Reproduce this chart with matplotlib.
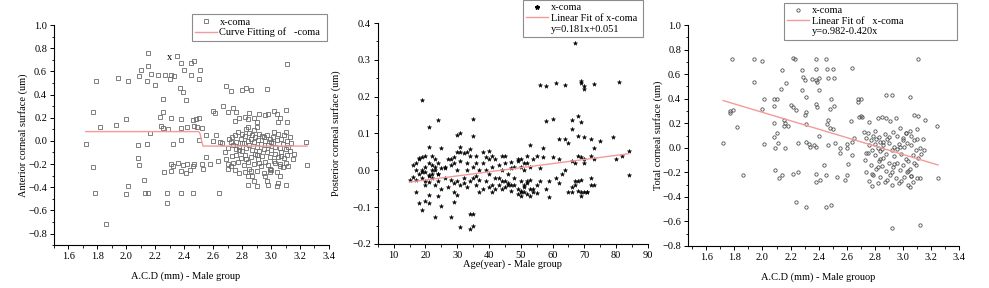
import numpy as np
import matplotlib.pyplot as plt
from matplotlib.lines import Line2D
from matplotlib.ticker import MultipleLocator

plt.rcParams["font.family"] = ["Liberation Serif", "DejaVu Serif"]
plt.rcParams["font.size"] = 7.5

# panel 1: anterior corneal surface vs A.C.D
acd_1 = [1.72, 1.77, 1.77, 1.78, 1.79, 1.82, 1.86, 1.93, 1.94, 2.00, 2.00, 2.01, 2.01, 2.08, 2.08,
         2.09, 2.09, 2.10, 2.12, 2.13, 2.14, 2.14, 2.15, 2.15, 2.15, 2.16, 2.17, 2.20, 2.22, 2.23,
         2.24, 2.25, 2.25, 2.25, 2.26, 2.27, 2.28, 2.28, 2.29, 2.30, 2.31, 2.31, 2.31, 2.31, 2.32,
         2.32, 2.33, 2.35, 2.36, 2.37, 2.38, 2.38, 2.38, 2.38, 2.38, 2.38, 2.39, 2.39, 2.40, 2.41,
         2.41, 2.42, 2.42, 2.44, 2.45, 2.45, 2.46, 2.46, 2.46, 2.47, 2.47, 2.47, 2.48, 2.49, 2.50,
         2.50, 2.50, 2.51, 2.52, 2.52, 2.53, 2.55, 2.55, 2.58, 2.60, 2.60, 2.61, 2.62, 2.63, 2.64,
         2.65, 2.67, 2.69, 2.70, 2.70, 2.72, 2.74, 2.75, 2.76, 2.78, 2.80, 2.82, 2.83, 2.84, 2.85,
         2.86, 2.88, 2.90, 2.90, 2.92, 2.96, 2.97, 2.98, 3.02, 3.04, 3.05, 3.06, 3.10, 3.11, 3.11,
         3.24, 3.25, 3.04, 3.05, 3.06, 2.97, 2.98, 2.90, 2.84, 3.10, 2.99, 3.06,
         2.66, 2.68, 2.69, 2.70, 2.71, 2.72, 2.73, 2.73, 2.74, 2.75, 2.75, 2.76, 2.76, 2.77, 2.77,
         2.78, 2.78, 2.79, 2.79, 2.80, 2.80, 2.81, 2.81, 2.82, 2.82, 2.82, 2.83, 2.83, 2.84, 2.84,
         2.84, 2.85, 2.85, 2.85, 2.86, 2.86, 2.87, 2.87, 2.87, 2.88, 2.88, 2.89, 2.89, 2.90, 2.90,
         2.91, 2.91, 2.92, 2.92, 2.93, 2.93, 2.94, 2.94, 2.95, 2.95, 2.96, 2.96, 2.97, 2.97, 2.98,
         2.98, 2.99, 2.99, 3.00, 3.00, 3.01, 3.01, 3.02, 3.02, 3.03, 3.03, 3.04, 3.04, 3.05, 3.05,
         3.06, 3.06, 3.07, 3.07, 3.08, 3.08, 3.09, 3.09, 3.10, 3.10, 3.11, 3.11, 3.12, 3.12, 3.13,
         3.14, 3.15, 3.16, 2.70, 2.74, 2.78, 2.83, 2.86, 2.88, 2.92, 2.95, 2.99, 3.03, 3.07, 2.80,
         2.90, 3.00, 2.72, 2.76, 2.96, 3.10, 3.13, 2.84, 2.88]
ant_1 = [-0.03, 0.25, -0.23, -0.45, 0.52, 0.12, -0.72, 0.14, 0.54, 0.19, -0.46, -0.39, 0.52, -0.04, -0.15,
         -0.21, 0.56, 0.61, -0.34, -0.45, -0.03, 0.52, -0.45, 0.65, 0.76, 0.07, 0.58, 0.48, 0.57, 0.21,
         0.13, 0.25, 0.36, 0.11, -0.27, 0.57, -0.45, -0.54, 0.10, 0.53, 0.57, 0.20, -0.20, -0.26, -0.03,
         -0.22, 0.56, 0.73, -0.19, 0.46, 0.67, 0.19, 0.11, 0.01, -0.45, -0.26, -0.21, 0.42, 0.61, 0.35,
         -0.28, -0.20, 0.12, -0.25, 0.57, 0.67, 0.18, -0.45, -0.22, 0.69, 0.13, -0.20, 0.19, 0.12, 0.53,
         0.20, 0.01, 0.61, 0.11, -0.20, -0.24, 0.05, -0.14, -0.20, 0.26, 0.00, 0.24, 0.05, -0.17, -0.45,
         -0.01, 0.30, 0.47, 0.25, -0.20, 0.43, 0.28, 0.17, 0.25, 0.20, 0.44, 0.21, 0.46, 0.19, 0.24,
         0.44, 0.20, 0.16, 0.12, 0.23, 0.22, 0.45, 0.23, 0.26, 0.23, 0.16, 0.20, 0.27, 0.66, 0.16,
         -0.01, -0.21, -0.39, -0.36, -0.30, -0.35, -0.38, -0.39, -0.38, -0.38, -0.24, -0.22,
         -0.02, -0.10, -0.16, -0.06, 0.02, -0.22, -0.13, 0.03, -0.04, -0.25, 0.05, -0.12, -0.01, -0.18, 0.08,
         -0.28, -0.05, 0.02, -0.15, -0.09, 0.06, -0.21, -0.02, -0.27, 0.04, -0.12, 0.10, -0.06, -0.18, 0.00,
         0.12, -0.24, -0.04, 0.07, -0.14, 0.02, -0.08, -0.30, 0.05, -0.20, -0.01, -0.11, 0.03, -0.26, -0.05,
         0.01, -0.16, -0.09, 0.06, -0.22, -0.03, -0.13, 0.04, -0.07, -0.28, 0.00, -0.18, -0.10, 0.05, -0.04,
         -0.21, 0.02, -0.14, -0.08, -0.25, 0.03, -0.02, -0.17, 0.08, -0.11, -0.05, -0.27, 0.01, -0.14, 0.06,
         -0.06, -0.20, 0.02, -0.10, -0.23, -0.03, 0.05, -0.15, -0.07, -0.19, 0.00, -0.12, -0.05, -0.22, -0.09,
         -0.02, -0.16, -0.11, -0.24, -0.19, -0.08, -0.16, -0.26, 0.09, -0.19, 0.03, -0.27, -0.19, -0.13, -0.02,
         -0.12, -0.01, -0.01, -0.07, -0.30, 0.08, 0.03, -0.30, -0.35]
fit_x_1 = [1.72, 2.50, 2.51, 2.52, 2.53, 3.25]
fit_y_1 = [0.08, 0.08, 0.06, 0.00, -0.045, -0.045]

# panel 2: posterior corneal surface vs age
age_2 = [19, 21, 24, 17, 18, 19, 20, 21, 21, 23, 25, 24, 25, 21, 22, 28, 29, 29, 30, 31,
         31, 30, 31, 34, 34, 35, 35, 35, 35, 33, 34, 36, 38, 40, 41, 44, 45, 47, 49, 50,
         51, 53, 52, 55, 56, 58, 61, 64, 67, 69, 69, 70, 70, 73, 81, 58, 60, 57, 62, 64,
         65, 66, 66, 68, 68, 69, 70, 72, 73, 75, 79, 80, 84, 84, 82, 59, 62, 66, 67, 68,
         69, 69, 70, 71, 72, 72, 73, 68, 69,
         15, 16, 16, 17, 17, 18, 18, 18, 19, 19, 19, 20, 20, 20, 20, 21, 21, 21, 22, 22,
         22, 23, 23, 23, 24, 24, 24, 25, 25, 26, 26, 27, 27, 28, 28, 29, 29, 30, 30, 30,
         31, 31, 32, 32, 33, 33, 34, 34, 35, 35, 36, 36, 37, 37, 38, 38, 39, 39, 40, 40,
         41, 41, 42, 42, 43, 43, 44, 44, 45, 45, 46, 46, 47, 47, 48, 48, 49, 49, 49, 50,
         50, 50, 50, 51, 51, 51, 52, 52, 52, 53, 53, 53, 54, 54, 55, 55, 56, 56, 57, 58,
         59, 60, 61, 62, 63, 64, 65, 66, 66, 67, 67, 68, 69, 70, 70, 71, 72, 73, 20, 22,
         24, 26, 28, 32, 36, 40, 44, 48, 50, 52, 17, 19, 21, 23, 33, 37, 41, 43, 45, 47,
         29, 31, 39, 42, 46, 51, 53, 54]
post_2 = [0.190, 0.117, 0.137, -0.060, -0.090, -0.107, -0.083, -0.068, -0.088, -0.128, -0.098, -0.070, 0.061, 0.062, 0.038, -0.128, -0.087, -0.060, 0.095, 0.100,
          0.062, -0.068, -0.155, -0.160, -0.120, -0.120, -0.150, 0.139, 0.092, 0.050, 0.058, 0.040, 0.050, 0.053, 0.040, 0.040, 0.038, 0.022, 0.030, 0.032,
          0.020, 0.068, 0.040, 0.040, 0.232, 0.228, 0.237, 0.231, 0.345, 0.243, 0.236, 0.229, 0.222, 0.235, 0.239, 0.135, 0.140, 0.060, 0.085, 0.084,
          0.075, 0.112, 0.137, 0.147, 0.094, 0.130, 0.091, 0.086, 0.060, 0.080, 0.091, 0.030, 0.053, -0.012, 0.040, -0.072, -0.035, -0.060, -0.040, -0.055,
          -0.060, -0.070, -0.060, -0.060, -0.040, -0.020, -0.040, -0.030, -0.025,
          -0.025, 0.014, -0.018, 0.000, -0.027, 0.030, -0.010, 0.034, 0.002, -0.020, 0.036, -0.005, 0.010, -0.030, 0.040, -0.012, 0.020, -0.032, 0.000, 0.015,
          -0.022, 0.008, -0.040, 0.030, -0.010, 0.020, -0.030, 0.005, -0.050, 0.010, -0.020, 0.030, -0.045, 0.015, -0.025, 0.020, -0.035, 0.050, -0.030, 0.000,
          -0.040, 0.025, 0.048, -0.035, 0.000, -0.045, 0.040, -0.030, -0.020, 0.010, -0.040, 0.020, -0.025, 0.000, -0.050, 0.020, -0.030, 0.035, -0.010, -0.045,
          0.010, -0.060, 0.030, -0.020, -0.040, 0.015, -0.030, 0.000, -0.045, 0.020, -0.010, -0.035, 0.005, -0.040, -0.020, 0.010, -0.050, 0.025, -0.065, -0.030,
          -0.055, 0.010, -0.070, -0.045, 0.000, -0.060, -0.035, 0.020, -0.065, -0.050, 0.010, -0.025, -0.060, 0.030, -0.040, -0.062, 0.005, -0.030, 0.035, -0.050,
          -0.030, 0.035, -0.020, 0.030, -0.010, 0.000, -0.060, 0.025, -0.045, 0.020, -0.030, 0.040, 0.035, 0.030, 0.020, -0.060, 0.040, 0.030, -0.040, -0.010,
          -0.010, 0.005, 0.030, -0.020, -0.015, 0.030, -0.050, -0.040, -0.060, -0.030, 0.020, -0.005, -0.015, 0.000, 0.020, -0.060, -0.040, -0.020, -0.030, -0.055,
          0.035, 0.050, 0.000, -0.050, -0.040, -0.040, -0.070, -0.050]
fit_x_2 = [15, 84]
fit_y_2 = [-0.032, 0.045]

# panel 3: total corneal surface vs A.C.D
acd_3 = [1.72, 1.77, 1.77, 1.78, 1.79, 1.82, 1.86, 1.94, 1.94, 2.00, 2.00, 2.01, 2.01, 2.08, 2.08,
         2.08, 2.08, 2.09, 2.09, 2.10, 2.10, 2.11, 2.12, 2.13, 2.14, 2.14, 2.15, 2.15, 2.16, 2.16,
         2.17, 2.18, 2.20, 2.22, 2.22, 2.22, 2.23, 2.24, 2.24, 2.25, 2.25, 2.28, 2.28, 2.29, 2.30,
         2.30, 2.31, 2.31, 2.31, 2.31, 2.31, 2.33, 2.34, 2.35, 2.37, 2.38, 2.38, 2.38, 2.38, 2.38,
         2.38, 2.38, 2.39, 2.39, 2.40, 2.40, 2.40, 2.41, 2.44, 2.45, 2.45, 2.45, 2.46, 2.46, 2.47,
         2.47, 2.47, 2.48, 2.48, 2.49, 2.49, 2.50, 2.50, 2.51, 2.51, 2.52, 2.53, 2.55, 2.55, 2.59,
         2.60, 2.60, 2.60, 2.61, 2.63, 2.64, 2.64, 2.64, 2.65, 2.68, 2.68, 2.69, 2.70, 2.70, 2.71,
         2.72, 2.88, 2.92, 3.05, 3.11, 2.92, 3.12, 3.24, 3.25, 3.16, 3.15,
         2.73, 2.74, 2.74, 2.75, 2.75, 2.76, 2.76, 2.77, 2.77, 2.78, 2.78, 2.79, 2.79, 2.80, 2.80,
         2.81, 2.81, 2.82, 2.82, 2.82, 2.83, 2.83, 2.84, 2.84, 2.84, 2.85, 2.85, 2.86, 2.86, 2.87,
         2.87, 2.88, 2.88, 2.89, 2.89, 2.90, 2.90, 2.91, 2.91, 2.92, 2.92, 2.93, 2.93, 2.94, 2.94,
         2.95, 2.95, 2.96, 2.96, 2.97, 2.97, 2.98, 2.98, 2.99, 2.99, 3.00, 3.00, 3.01, 3.01, 3.02,
         3.02, 3.03, 3.03, 3.04, 3.04, 3.05, 3.05, 3.05, 3.06, 3.06, 3.06, 3.07, 3.07, 3.08, 3.08,
         3.09, 3.09, 3.10, 3.10, 3.11, 3.11, 3.12, 3.12, 3.13, 3.14, 2.76, 2.80, 2.84, 2.88, 2.92,
         2.96, 3.00, 3.04, 3.08, 2.78, 2.86, 2.94, 3.02, 3.10, 2.82, 2.90, 2.98, 3.06, 2.74, 2.85]
tot_3 = [0.04, 0.28, 0.30, 0.72, 0.31, 0.17, -0.22, 0.54, 0.72, 0.71, 0.32, 0.40, 0.03, 0.40, 0.34,
         0.20, 0.09, 0.00, -0.18, 0.40, 0.12, 0.04, -0.25, 0.48, 0.63, -0.22, 0.23, 0.18, 0.20, 0.00,
         0.53, 0.18, 0.35, 0.73, 0.33, -0.21, 0.72, 0.31, -0.44, 0.04, -0.20, 0.63, 0.47, 0.58, 0.55,
         0.27, 0.41, 0.29, 0.19, 0.05, -0.48, 0.03, 0.01, 0.56, 0.02, 0.72, 0.64, 0.55, 0.36, 0.01,
         -0.21, -0.28, 0.54, 0.33, 0.57, 0.47, 0.10, -0.26, -0.14, 0.72, -0.22, -0.48, 0.64, 0.19, 0.57,
         0.23, 0.02, 0.32, 0.16, 0.40, -0.47, 0.64, 0.15, 0.57, 0.34, 0.04, -0.24, 0.00, -0.04, -0.26,
         0.03, 0.00, -0.22, -0.13, 0.22, 0.65, 0.05, -0.06, 0.08, 0.40, 0.37, 0.25, 0.40, 0.26, 0.25,
         0.13, 0.43, 0.43, 0.41, 0.72, -0.65, -0.63, 0.18, -0.25, 0.23, -0.02,
         -0.10, 0.08, -0.20, -0.04, 0.12, -0.27, 0.02, -0.14, 0.06, -0.31, -0.02, 0.10, -0.22, -0.06, 0.03,
         -0.17, 0.07, -0.29, 0.00, 0.24, -0.11, 0.09, -0.24, -0.03, 0.05, 0.25, -0.15, -0.08, 0.02, -0.28,
         0.11, -0.19, -0.05, 0.07, -0.26, -0.12, 0.04, -0.22, 0.22, -0.02, -0.30, -0.16, 0.13, -0.07, 0.01,
         -0.25, 0.24, -0.12, 0.10, -0.29, 0.03, -0.18, 0.16, -0.05, -0.27, 0.06, -0.14, -0.24, 0.01, -0.09,
         0.12, -0.20, 0.04, -0.30, -0.11, 0.14, -0.17, -0.32, 0.02, -0.23, 0.10, -0.06, -0.28, 0.06, 0.27,
         -0.14, -0.02, 0.15, -0.25, -0.08, 0.26, -0.25, 0.00, -0.05, 0.07, 0.21, 0.14, -0.09, 0.24, -0.20,
         -0.01, 0.08, -0.19, -0.12, -0.21, 0.05, -0.13, 0.12, 0.07, -0.16, 0.09, 0.01, -0.23, -0.04, -0.01]
fit_x_3 = [1.72, 3.25]
fit_y_3 = [0.385, -0.14]

FIT_COLOR = "#f39a9a"


def style_axes(ax, xmaj, xmin, ymaj, ymin):
    for s in ("top", "right"):
        ax.spines[s].set_visible(False)
    for s in ("left", "bottom"):
        ax.spines[s].set_linewidth(0.8)
    ax.xaxis.set_major_locator(MultipleLocator(xmaj))
    ax.xaxis.set_minor_locator(MultipleLocator(xmin))
    ax.yaxis.set_major_locator(MultipleLocator(ymaj))
    ax.yaxis.set_minor_locator(MultipleLocator(ymin))
    ax.tick_params(which="major", direction="out", length=3, width=0.7, labelsize=7.5, pad=2)
    ax.tick_params(which="minor", direction="out", length=1.8, width=0.6)


def add_legend(fig, ax, handles, labels, box):
    # box = (x0, y0, w, h) in figure coords, legend stretched to its width
    leg = ax.legend(handles, labels, loc="upper left", bbox_to_anchor=box, mode="expand",
                    bbox_transform=fig.transFigure, fontsize=7.5, frameon=True, fancybox=False,
                    handlelength=2.1, handletextpad=0.25, borderpad=0.3, labelspacing=0.12,
                    borderaxespad=0)
    leg.get_frame().set_edgecolor("#707070")
    leg.get_frame().set_linewidth(0.8)
    return leg


fig = plt.figure(figsize=(9.89, 2.88), dpi=100)
ax1 = fig.add_axes([0.0546, 0.149, 0.278, 0.764])
ax2 = fig.add_axes([0.382, 0.153, 0.273, 0.767])
ax3 = fig.add_axes([0.6957, 0.146, 0.274, 0.767])

# anterior
ax1.plot(acd_1, ant_1, ls="none", marker="s", ms=2.2, mfc="none", mec="#6a6a6a", mew=0.6)
ax1.plot(fit_x_1, fit_y_1, color=FIT_COLOR, lw=1.0)
ax1.text(2.30, 0.72, "x", fontsize=7.5, ha="center", va="center")
ax1.set_xlim(1.5, 3.4)
ax1.set_ylim(-0.9, 1.0)
style_axes(ax1, 0.2, 0.1, 0.2, 0.1)
ax1.set_xlabel("A.C.D (mm) - Male group", fontsize=7.5)
ax1.set_ylabel("Anterior corneal surface (um)", fontsize=7.5)
ax1.xaxis.set_label_coords(0.48, -0.12)
ax1.yaxis.set_label_coords(-0.093, 0.5)
h1 = [Line2D([], [], ls="none", marker="s", ms=2.2, mfc="none", mec="#6a6a6a", mew=0.6),
      Line2D([], [], color=FIT_COLOR, lw=1.0)]
add_legend(fig, ax1, h1, ["x-coma", "Curve Fitting of   -coma"], (0.194, 0.951, 0.137, 0.0))

# posterior
ax2.plot(age_2, post_2, ls="none", marker="*", ms=3.2, color="black", mew=0.3)
ax2.plot(fit_x_2, fit_y_2, color=FIT_COLOR, lw=1.0)
ax2.set_xlim(5, 90)
ax2.set_ylim(-0.2, 0.4)
style_axes(ax2, 10, 5, 0.1, 0.05)
ax2.set_xlabel("Age(year) - Male group", fontsize=7.5)
ax2.set_ylabel("Posterior corneal surface (um)", fontsize=7.5)
ax2.xaxis.set_label_coords(0.5, -0.07)
ax2.yaxis.set_label_coords(-0.138, 0.5)
h2 = [Line2D([], [], ls="none", marker="*", ms=3.2, color="black"),
      Line2D([], [], color=FIT_COLOR, lw=1.0),
      Line2D([], [], ls="none")]
add_legend(fig, ax2, h2, ["x-coma", "Linear Fit of x-coma", "y=0.181x+0.051"], (0.529, 1.0, 0.121, 0.0))

# total
ax3.plot(acd_3, tot_3, ls="none", marker="o", ms=2.4, mfc="none", mec="#505050", mew=0.6)
ax3.plot(fit_x_3, fit_y_3, color=FIT_COLOR, lw=1.0)
ax3.set_xlim(1.47, 3.4)
ax3.set_ylim(-0.8, 1.0)
style_axes(ax3, 0.2, 0.1, 0.2, 0.1)
ax3.set_xlabel("A.C.D (mm) - Male grouop", fontsize=7.5)
ax3.set_ylabel("Total corneal surface (um)", fontsize=7.5)
ax3.xaxis.set_label_coords(0.48, -0.12)
ax3.yaxis.set_label_coords(-0.093, 0.5)
h3 = [Line2D([], [], ls="none", marker="o", ms=2.4, mfc="none", mec="#505050", mew=0.6),
      Line2D([], [], color=FIT_COLOR, lw=1.0),
      Line2D([], [], ls="none")]
add_legend(fig, ax3, h3, ["x-coma", "Linear Fit of   x-coma", "y=o.982-0.420x"], (0.793, 0.99, 0.175, 0.0))

fig.savefig("out.png", dpi=100)
plt.close(fig)
